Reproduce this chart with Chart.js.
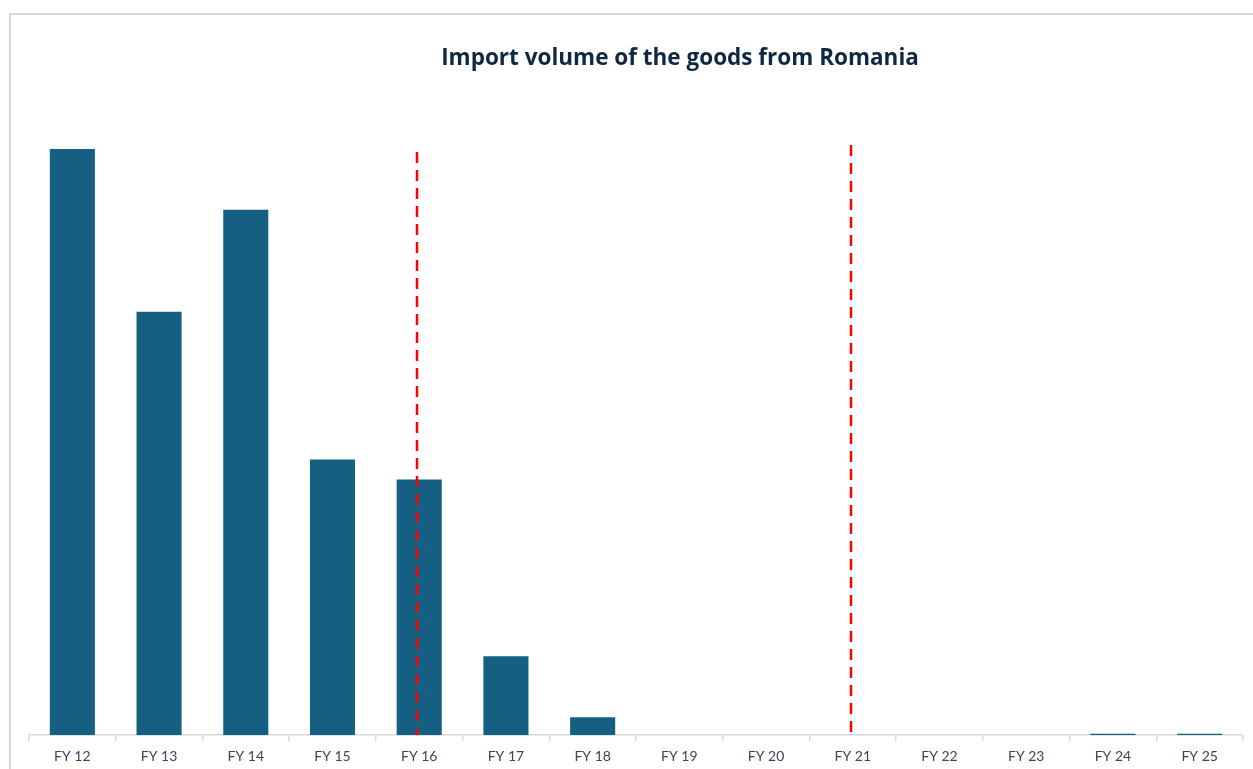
<!DOCTYPE html>
<html>
<head>
<meta charset="utf-8">
<script src="https://cdn.jsdelivr.net/npm/chart.js@4.4.1/dist/chart.umd.min.js"></script>
<style>
  html, body { margin: 0; padding: 0; background: #fff; overflow: hidden; }
  #frame { position: absolute; left: 9px; top: 13px; width: 1400px; height: 900px; border: 2px solid #d9d9d9; box-sizing: border-box; }
  #wrap { position: absolute; left: 0; top: 0; width: 1253px; height: 776px; }
</style>
</head>
<body>
<div id="frame"></div>
<div id="wrap"><canvas id="chart"></canvas></div>
<script>
// Datos
const years = ['FY 12', 'FY 13', 'FY 14', 'FY 15', 'FY 16', 'FY 17', 'FY 18', 'FY 19', 'FY 20', 'FY 21', 'FY 22', 'FY 23', 'FY 24', 'FY 25']
const volume = [587, 424, 526, 276, 256, 79, 18, 0, 0, 0, 0, 0, 1.5, 1.5]

// Líneas verticales rojas (categoría y altura superior)
const markerYears = ['FY 16', 'FY 21']
const markerTops = [584, 591]

// Plugin para las líneas discontinuas
const markerLines = {
    id: 'markerLines',
    afterDatasetsDraw(chart) {
        const { ctx, scales: { x, y } } = chart
        ctx.save()
        ctx.strokeStyle = '#ff0000'
        ctx.lineWidth = 2.5
        ctx.setLineDash([11, 7])
        markerYears.forEach((yr, i) => {
            const px = Math.round(x.getPixelForValue(years.indexOf(yr))) - 2
            ctx.beginPath()
            ctx.moveTo(px, y.getPixelForValue(markerTops[i]))
            ctx.lineTo(px, y.getPixelForValue(0))
            ctx.stroke()
        })
        ctx.restore()
    }
}

// El título está desplazado a la derecha como en el original
const shiftTitle = {
    id: 'shiftTitle',
    afterLayout(chart) {
        chart.titleBlock.left += 44
        chart.titleBlock.right += 44
    }
}

const data = {
    labels: years,
    datasets: [{
        data: volume,
        backgroundColor: '#156082',
        barPercentage: 0.52,
        categoryPercentage: 1
    }]
}

const options = {
    responsive: false,
    animation: false,
    layout: { padding: { left: 29, right: 10, top: 0, bottom: 4 } },
    plugins: {
        legend: { display: false },
        tooltip: { enabled: false },
        title: {
            display: true,
            text: 'Import volume of the goods from Romania',
            color: '#0e2841',
            font: { family: 'Open Sans', size: 22.5, weight: 'bold' },
            padding: { top: 45, bottom: 14 }
        }
    },
    scales: {
        x: {
            grid: { offset: true, drawOnChartArea: false, tickLength: 6, color: '#d9d9d9', lineWidth: 1.5 },
            border: { color: '#d9d9d9', width: 1.5 },
            ticks: { color: '#3b4557', padding: 7, font: { family: 'Lato', size: 14 }, maxRotation: 0, autoSkip: false }
        },
        y: {
            display: false,
            min: 0,
            max: 650
        }
    }
}

const canvas = document.getElementById('chart')
canvas.width = 1253
canvas.height = 776
new Chart(canvas, { type: 'bar', data, options, plugins: [markerLines, shiftTitle] })
</script>
</body>
</html>
